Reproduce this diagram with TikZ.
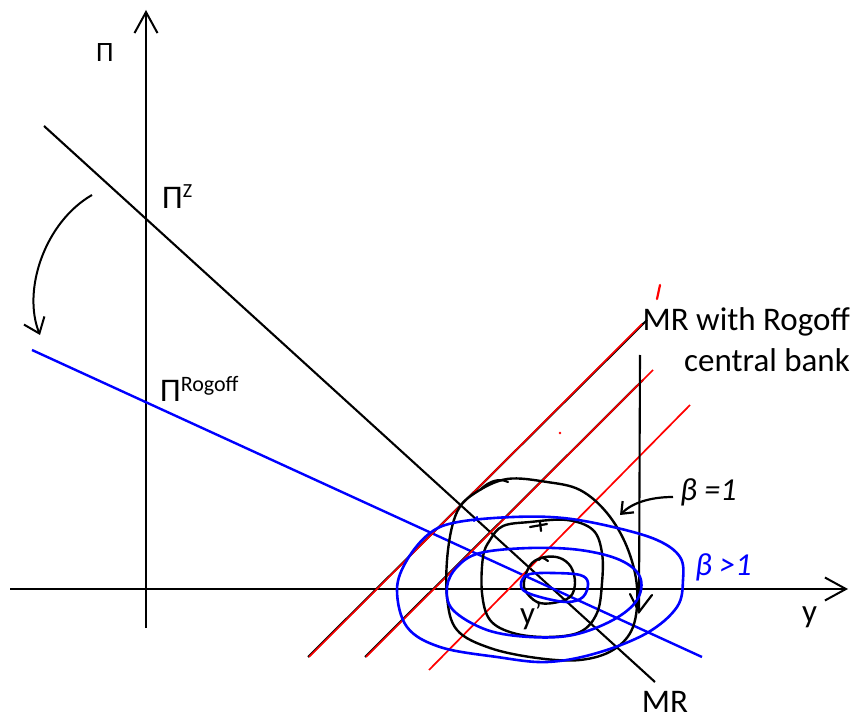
\documentclass[tikz,border=0pt]{standalone}
\usepackage{fontspec}
\setmainfont{Carlito}
\usetikzlibrary{arrows.meta}
\begin{document}
\begin{tikzpicture}[x=1pt,y=-1pt,
  axis/.style={line width=2pt,-{Straight Barb[length=21pt,width=23pt,line width=2pt]}},
  blk/.style={line width=2.1pt,black},
  bluln/.style={line width=2.4pt,blue},
  redln/.style={line width=1.7pt,red},
  loopk/.style={line width=2.4pt,black,smooth cycle,tension=0.6},
  loopb/.style={line width=2.6pt,blue,smooth cycle,tension=0.6},
  hand/.style={line width=2.2pt,line cap=round},
  lbl/.style={inner sep=0pt,font=\fontsize{33}{40}\selectfont},
  pil/.style={inner sep=0pt,font=\fontsize{33}{38}\selectfont},
]
\useasboundingbox (0,0) rectangle (852,719);

% coordinates
\coordinate (vb) at (146,628); \coordinate (vt) at (146,10);
\coordinate (hl) at (10,589);  \coordinate (hr) at (848,589);
\coordinate (mrA) at (44,126); \coordinate (mrB) at (655,682);
\coordinate (rgA) at (32,350); \coordinate (rgB) at (702,657);
\coordinate (c1a) at (308,657); \coordinate (c1b) at (647,320);
\coordinate (c2a) at (365,657); \coordinate (c2b) at (653,370);
\coordinate (c3a) at (429,670); \coordinate (c3b) at (690,405);
\coordinate (vlT) at (640,355); \coordinate (vlB) at (639,612);
\coordinate (caS) at (92,195); \coordinate (caE) at (40,335);
\coordinate (baS) at (673,497); \coordinate (baE) at (620,515);

% axes
\draw[axis] (vb) -- (vt);
\draw[axis] (hl) -- (hr);

% MR lines
\draw[blk] (mrA) -- (mrB);
\draw[bluln] (rgA) -- (rgB);

% 45-degree lines
\draw[blk] (c1a) -- (c1b);
\draw[redln] ([shift={(1,0)}]c1a) -- ([shift={(-5,4)}]c1b);
\draw[blk] (c2a) -- ([shift={(-10,10)}]c2b);
\draw[redln] ([shift={(1,0)}]c2a) -- (c2b);
\draw[redln] (c3a) -- (c3b);
\draw[red,line width=2.2pt,line cap=round] (657,299) -- (660,285);
\fill[red] (560,433) circle (1.3pt);

% vertical line with arrow
\draw[blk] (vlT) -- (vlB);
\draw[hand] (630,594) -- (639,612) -- (652,595);

% curved rotation arrow
\draw[line width=2pt,-{Straight Barb[length=14pt,width=22pt,line width=2pt]}]
  (caS) .. controls (45,222) and (22,290) .. (caE);

% black loops (beta = 1)
\draw[loopk] plot coordinates {(507,479) (547,482) (580,490) (607,513) (627,547) (637,587) (633,627) (613,650) (580,660) (537,658) (490,648) (457,630) (447,597) (448,550) (457,512) (475,493)};
\draw[loopk] plot coordinates {(530,522) (567,520) (593,530) (602,553) (602,583) (597,613) (580,632) (547,637) (513,633) (490,620) (482,593) (483,557) (490,540) (503,526)};
\draw[loopk] plot coordinates {(545,557) (560,558) (571,567) (575,583) (570,597) (553,603) (537,602) (525,590) (525,577) (532,563)};

% blue loops (beta > 1)
\draw[loopb] plot coordinates {(513,517) (563,518) (613,527) (657,540) (680,557) (683,580) (677,607) (647,633) (597,653) (547,662) (497,657) (440,647) (407,627) (397,590) (407,560) (430,533) (458,522)};
\draw[loopb] plot coordinates {(530,548) (580,550) (620,560) (640,577) (637,600) (613,620) (573,635) (530,637) (487,630) (453,610) (447,587) (457,567) (480,553)};
\draw[loopb] plot coordinates {(553,573) (580,575) (588,583) (583,597) (567,602) (540,597) (523,590) (522,580) (530,574)};

% small tick marks on loops
\draw[hand] (480,490) .. controls (490,480) and (500,478) .. (508,482);
\draw[hand] (530,527) -- (547,524);
\draw[hand] (540,522) -- (541,531);
\draw[hand] (548,561) .. controls (544,558) and (541,556) .. (539,560);
\draw[hand,blue] (474,521) -- (477,517);

% beta=1 arrow
\draw[line width=2.2pt,-{Straight Barb[length=10pt,width=16pt,line width=2.2pt]}]
  (baS) .. controls (650,497) and (632,503) .. (baE);

% labels
\node[pil,font=\fontsize{28}{32}\selectfont,anchor=base west] (pi) at (96,62) {Π};
\node[pil,anchor=base west] (piz) at (162,209) {Π\raisebox{11pt}{\fontsize{20}{22}\selectfont Z}};
\node[pil,anchor=base west] (pir) at (160,402) {Π\raisebox{10pt}{\fontsize{22}{24}\selectfont Rogoff}};
\node[lbl,anchor=east] (mrr1) at (850,322) {MR with Rogoff};
\node[lbl,anchor=east] (mrr2) at (850,360) {central bank};
\node[lbl,anchor=base west] (ylab) at (802,622) {y};
\node[lbl,anchor=base] (mr) at (665,712) {MR};
\node[lbl,anchor=base west] (yone) at (520,624) {y\raisebox{4pt}{\fontsize{26}{26}\selectfont\symbol{"27}}};
\node[lbl,font=\fontsize{32}{36}\selectfont\itshape,anchor=west] (b1) at (680,492) {β =1};
\node[lbl,font=\fontsize{32}{36}\selectfont\itshape,anchor=west,text=blue] (b2) at (695,567) {β >1};
\end{tikzpicture}
\end{document}
